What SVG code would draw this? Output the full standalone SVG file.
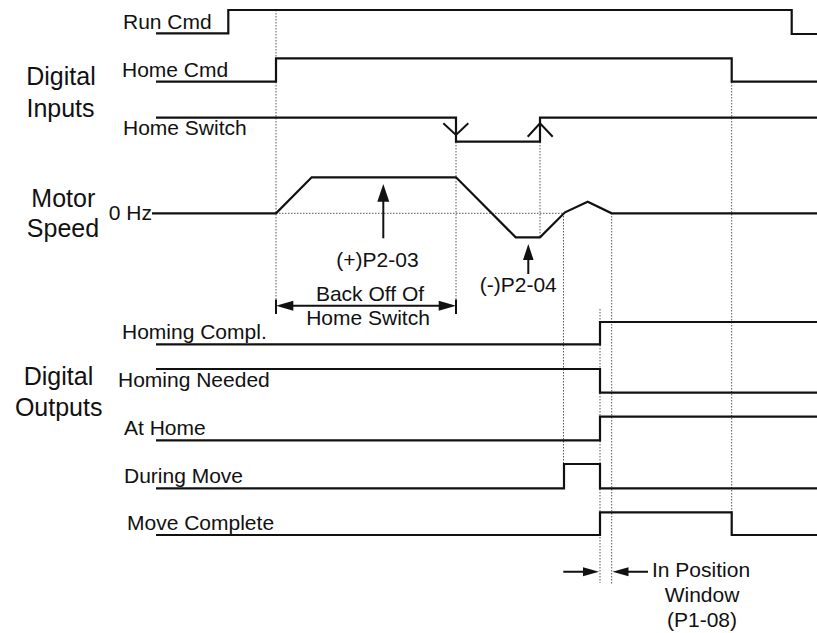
<svg xmlns="http://www.w3.org/2000/svg" width="817" height="633" viewBox="0 0 817 633">
<style>
text{font-family:"Liberation Sans",Arial,sans-serif;fill:#111}
.s{font-size:21px}
.b{font-size:25px}
.c{text-anchor:middle}
.sig{fill:none;stroke:#111;stroke-width:2.2;stroke-linejoin:miter}
.dot{fill:none;stroke:#555;stroke-width:1;stroke-dasharray:1.5,1.5}
.ah{fill:#111;stroke:none}
.ln{fill:none;stroke:#111;stroke-width:2}
</style>
<rect width="817" height="633" fill="#fff"/>
<g id="guides">
<path class="dot" d="M276,10V314M456,142V314M540,142V237M731.7,82V535M563.5,213V488M611.7,213V584M600,309V583M276,213.3H565"/>
</g>
<g id="group-labels">
<text class="b c" x="61" y="85">Digital</text>
<text class="b c" x="60.5" y="116.5">Inputs</text>
<text class="b c" x="63.3" y="206.5">Motor</text>
<text class="b c" x="63" y="237">Speed</text>
<text class="b c" x="58.5" y="385">Digital</text>
<text class="b c" x="58.7" y="416">Outputs</text>
</g>
<g id="run-cmd">
<text class="s" x="123" y="29">Run Cmd</text>
<path class="sig" d="M156,33.3H228.3V10H791.7V34H817"/>
</g>
<g id="home-cmd">
<text class="s" x="122" y="77">Home Cmd</text>
<path class="sig" d="M156,81.7H276V58.3H731.7V81.7H817"/>
</g>
<g id="home-switch">
<text class="s" x="123" y="135">Home Switch</text>
<path class="sig" d="M156,117.7H456V141.7H540V117.7H817"/>
<path class="ln" d="M443.3,123.3L456,135L468.3,123.3M527.7,136.7L540,123.3L552.7,136.7"/>
</g>
<g id="motor-speed">
<text class="s" text-anchor="end" x="152" y="220">0 Hz</text>
<path class="sig" d="M152,213.3H276L311.7,177.3H456L515.7,237.3H540L565,212.3L587.7,201.7L611.7,213.3H817"/>
</g>
<g id="p2-03">
<path class="ln" d="M383.3,238.3V200"/>
<polygon class="ah" points="383.3,184 377.3,201.7 389.3,201.7"/>
<text class="s c" x="377.5" y="267.3">(+)P2-03</text>
</g>
<g id="p2-04">
<path class="ln" d="M528.3,274V258"/>
<polygon class="ah" points="528.3,244 523,260 533.6,260"/>
<text class="s c" x="518.3" y="291.7">(-)P2-04</text>
</g>
<g id="back-off">
<path class="ln" d="M276,299.5V314M456,299.5V314M290,305.7H442"/>
<polygon class="ah" points="276,305.7 293.3,300.7 293.3,310.7"/>
<polygon class="ah" points="456,305.7 438.7,300.7 438.7,310.7"/>
<text class="s c" x="370" y="300.7">Back Off Of</text>
<text class="s c" x="368" y="325">Home Switch</text>
</g>
<g id="homing-compl">
<text class="s" x="122" y="339.3">Homing Compl.</text>
<path class="sig" d="M156,344.3H600V322H817"/>
</g>
<g id="homing-needed">
<text class="s" x="118" y="387.3">Homing Needed</text>
<path class="sig" d="M156,369H600V392.7H817"/>
</g>
<g id="at-home">
<text class="s" x="124" y="435">At Home</text>
<path class="sig" d="M156,440.3H600V416.7H817"/>
</g>
<g id="during-move">
<text class="s" x="124" y="482.7">During Move</text>
<path class="sig" d="M156,488.3H564V464H600V488.3H817"/>
</g>
<g id="move-complete">
<text class="s" x="127" y="530">Move Complete</text>
<path class="sig" d="M156,535H600V512.3H731.7V535H817"/>
</g>
<g id="in-position">
<path class="ln" d="M563.3,571.7H585M648,571.7H626"/>
<polygon class="ah" points="599,571.7 583,567.2 583,576.2"/>
<polygon class="ah" points="612.5,571.7 628.5,567.2 628.5,576.2"/>
<text class="s" x="652" y="577">In Position</text>
<text class="s c" x="702" y="602">Window</text>
<text class="s c" x="702" y="627">(P1-08)</text>
</g>
</svg>
